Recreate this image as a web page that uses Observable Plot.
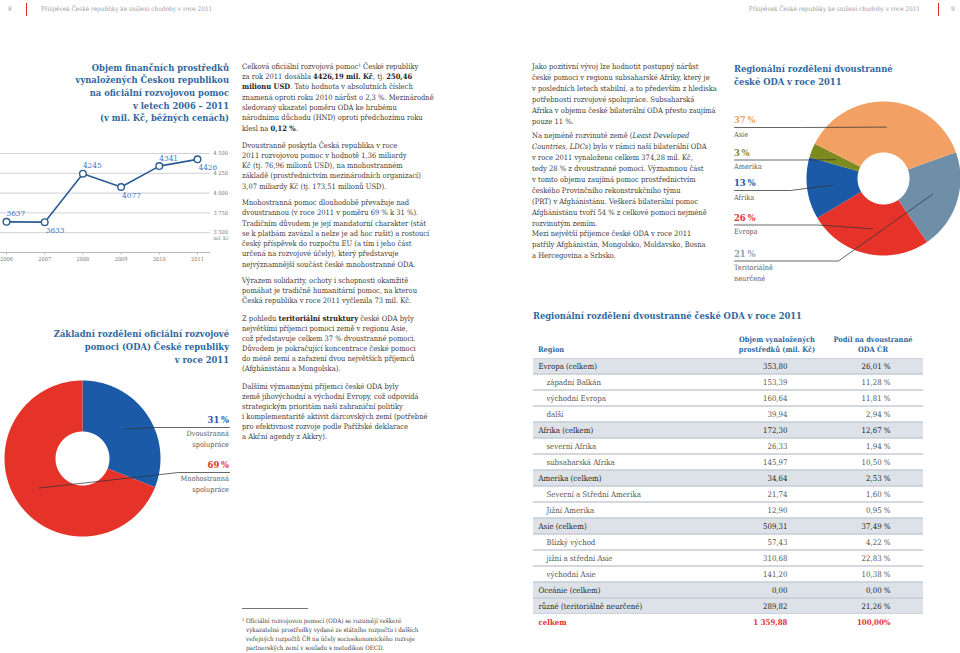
<!DOCTYPE html>
<html lang="cs"><head><meta charset="utf-8">
<script src="https://cdn.jsdelivr.net/npm/d3@7"></script>
<script src="https://cdn.jsdelivr.net/npm/@observablehq/plot@0.6"></script>
<style>
html,body{margin:0;padding:0;background:#fff;}
#page{position:relative;width:960px;height:653px;overflow:hidden;font-family:"DejaVu Serif Condensed","DejaVu Serif",serif;font-stretch:condensed;color:#404040;}
.a{position:absolute;white-space:nowrap;}
.body{font-size:7.5px;line-height:10.3px;color:#404040;}
.body b{color:#1e1e1e;}
.title{font-weight:bold;color:#2e67a0;font-size:9.3px;}
.r{text-align:right;}
.hdr{font-size:6.4px;line-height:10px;color:#9a9a9a;}
.vbar{position:absolute;width:1.3px;background:#e0312b;}
.box{position:absolute;}
.pct{font-weight:bold;font-size:9.4px;line-height:12px;}
.lbl{font-size:7.3px;line-height:11px;color:#555555;}
.th{font-weight:bold;color:#2e67a0;font-size:7.4px;line-height:10.7px;text-align:center;}
</style></head>
<body><div id="page">

<!-- page header -->
<div class="a hdr" style="left:8px;top:4px;">8</div>
<div class="vbar" style="left:26px;top:3px;height:13px;"></div>
<div class="a hdr" style="left:41px;top:4px;">Příspěvek České republiky ke snížení chudoby v roce 2011</div>
<div class="a hdr r" style="right:40px;top:4px;">Příspěvek České republiky ke snížení chudoby v roce 2011</div>
<div class="vbar" style="left:938px;top:3px;height:13px;"></div>
<div class="a hdr" style="left:951px;top:4px;">9</div>

<!-- chart titles -->
<div class="a title r" style="right:731px;top:61.6px;line-height:12.7px;">Objem finančních prostředků<br>vynaložených Českou republikou<br>na oficiální rozvojovou pomoc<br>v letech 2006 – 2011<br>(v mil. Kč, běžných cenách)</div>
<div class="a title r" style="right:731px;top:326.8px;line-height:13px;">Základní rozdělení oficiální rozvojové<br>pomoci (ODA) České republiky<br>v roce 2011</div>
<div class="a title" style="left:734px;top:61.6px;line-height:13.4px;">Regionální rozdělení dvoustranné<br>české ODA v roce 2011</div>
<div class="a title" style="left:533px;top:308.5px;line-height:13px;">Regionální rozdělení dvoustranné české ODA v roce 2011</div>

<!-- column 2 text -->
<div class="a body" style="left:242px;top:61.8px;">Celková oficiální rozvojová pomoc¹ České republiky<br>za rok 2011 dosáhla <b>4426,19 mil. Kč</b>, tj. <b>250,46</b><br><b>milionu USD</b>. Tato hodnota v absolutních číslech<br>znamená oproti roku 2010 nárůst o 2,3 %. Mezinárodně<br>sledovaný ukazatel poměru ODA ke hrubému<br>národnímu důchodu (HND) oproti předchozímu roku<br>klesl na <b>0,12 %</b>.</div>
<div class="a body" style="left:242px;top:140.6px;">Dvoustranně poskytla Česká republika v roce<br>2011 rozvojovou pomoc v hodnotě 1,36 miliardy<br>Kč (tj. 76,96 milionů USD), na mnohostranném<br>základě (prostřednictvím mezinárodních organizací)<br>3,07 miliardy Kč (tj. 173,51 milionů USD).</div>
<div class="a body" style="left:242px;top:198px;">Mnohostranná pomoc dlouhodobě převažuje nad<br>dvoustrannou (v roce 2011 v poměru 69 % k 31 %).<br>Tradičním důvodem je její mandatorní charakter (stát<br>se k platbám zavázal a nelze je ad hoc rušit) a rostoucí<br>český příspěvek do rozpočtu EU (a tím i jeho část<br>určená na rozvojové účely), který představuje<br>nejvýznamnější součást české mnohostranné ODA.</div>
<div class="a body" style="left:242px;top:275.5px;">Výrazem solidarity, ochoty i schopnosti okamžitě<br>pomáhat je tradičně humanitární pomoc, na kterou<br>Česká republika v roce 2011 vyčlenila 73 mil. Kč.</div>
<div class="a body" style="left:242px;top:314px;line-height:10px;">Z pohledu <b>teritoriální struktury</b> české ODA byly<br>největšími příjemci pomoci země v regionu Asie,<br>což představuje celkem 37 % dvoustranné pomoci.<br>Důvodem je pokračující koncentrace české pomoci<br>do méně zemí a zařazení dvou největších příjemců<br>(Afghánistánu a Mongolska).</div>
<div class="a body" style="left:242px;top:382px;line-height:10px;">Dalšími významnými příjemci české ODA byly<br>země jihovýchodní a východní Evropy, což odpovídá<br>strategickým prioritám naší zahraniční politiky<br>i komplementaritě aktivit dárcovských zemí (potřebné<br>pro efektivnost rozvoje podle Pařížské deklarace<br>a Akční agendy z Akkry).</div>
<div class="a" style="left:242px;top:608px;width:66px;height:0.8px;background:#777;"></div>
<div class="a body" style="left:242px;top:615.5px;font-size:6.2px;line-height:9px;padding-left:4px;text-indent:-4px;white-space:normal;width:300px;">¹ Oficiální rozvojovou pomocí (ODA) se rozumějí veškeré<br>vykazatelné prostředky vydané ze státního rozpočtu i dalších<br>veřejných rozpočtů ČR na účely socioekonomického rozvoje<br>partnerských zemí v souladu s metodikou OECD.</div>

<!-- column 3 text -->
<div class="a body" style="left:532px;top:60.5px;line-height:11px;">Jako pozitivní vývoj lze hodnotit postupný nárůst<br>české pomoci v regionu subsaharské Afriky, který je<br>v posledních letech stabilní, a to především z hlediska<br>potřebnosti rozvojové spolupráce. Subsaharská<br>Afrika v objemu české bilaterální ODA přesto zaujímá<br>pouze 11 %.</div>
<div class="a body" style="left:532px;top:129.5px;line-height:11px;">Na nejméně rozvinuté země (<i>Least Developed</i><br><i>Countries, LDCs</i>) bylo v rámci naší bilaterální ODA<br>v roce 2011 vynaloženo celkem 374,28 mil. Kč,<br>tedy 28 % z dvoustranné pomoci. Významnou část<br>v tomto objemu zaujímá pomoc prostřednictvím<br>českého Provinčního rekonstrukčního týmu<br>(PRT) v Afghánistánu. Veškerá bilaterální pomoc<br>Afghánistánu tvoří 54 % z celkové pomoci nejméně<br>rozvinutým zemím.</div>
<div class="a body" style="left:532px;top:227.8px;line-height:11px;">Mezi největší příjemce české ODA v roce 2011<br>patřily Afghánistán, Mongolsko, Moldavsko, Bosna<br>a Hercegovina a Srbsko.</div>

<!-- table header -->
<div class="a th" style="left:538px;top:345.3px;text-align:left;">Region</div>
<div class="a th" style="left:727px;width:100px;top:334.6px;">Objem vynaložených<br>prostředků (mil. Kč)</div>
<div class="a th" style="left:823px;width:100px;top:334.6px;">Podíl na dvoustranné<br>ODA ČR</div>

<div id="lineBox" class="box" style="left:0px;top:140px;"></div>
<div id="splitBox" class="box" style="left:0px;top:378px;"></div>
<div id="regionBox" class="box" style="left:725px;top:95px;"></div>
<div id="tableBox" class="box" style="left:533px;top:358px;"></div>
<div id="labels"></div>
</div>

<script>
// ---------------- data ----------------
const years = [2006, 2007, 2008, 2009, 2010, 2011];
const odaVolume = [3637, 3633, 4245, 4077, 4341, 4426];
const volumeTicks = [3500, 3750, 4000, 4250, 4500];

const splitLabels = ["Dvoustranná spolupráce", "Mnohostranná spolupráce"];
const splitShares = [31, 69];

const regionLabels = ["Asie", "Amerika", "Afrika", "Evropa", "Teritoriálně neurčené"];
const regionShares = [37, 3, 13, 26, 21];

const tableRegions = ["Evropa (celkem)", "západní Balkán", "východní Evropa", "další",
  "Afrika (celkem)", "severní Afrika", "subsaharská Afrika",
  "Amerika (celkem)", "Severní a Střední Amerika", "Jižní Amerika",
  "Asie (celkem)", "Blízký východ", "jižní a střední Asie", "východní Asie",
  "Oceánie (celkem)", "různé (teritoriálně neurčené)", "celkem"];
const tableAmounts = [353.80, 153.39, 160.64, 39.94, 172.30, 26.33, 145.97, 34.64, 21.74, 12.90,
  509.31, 57.43, 310.68, 141.20, 0.00, 289.82, 1359.88];
const tableShares = [26.01, 11.28, 11.81, 2.94, 12.67, 1.94, 10.50, 2.53, 1.60, 0.95,
  37.49, 4.22, 22.83, 10.38, 0.00, 21.26, 100.00];
const tableLevels = [1, 0, 0, 0, 1, 0, 0, 1, 0, 0, 1, 0, 0, 0, 1, 1, 2];

// ---------------- styles ----------------
const FONT = '"DejaVu Serif Condensed","DejaVu Serif",serif';
const splitColors = ["#1b5aa6", "#e5332a"];
const regionColors = ["#f2a063", "#7b8b1e", "#1b5aa6", "#e5332a", "#6f8fa8"];
const regionTextColors = ["#f0a060", "#7b8b1e", "#1b5aa6", "#e5332a", "#8ea3b5"];
const cz = d3.formatLocale({decimal: ",", thousands: " ", grouping: [3], currency: ["", ""]});
const fmtThousand = cz.format(",");
const fmtAmount = cz.format(",.2f");
const fmtShare = d => cz.format(".2f")(d) + " %";

// ---------------- line chart ----------------
const lineData = years.map((year, i) => ({year, value: odaVolume[i], i}));
const lineChart = Plot.plot({
  width: 240, height: 130,
  marginLeft: 6, marginRight: 43, marginTop: 13, marginBottom: 18,
  x: {type: "linear", domain: d3.extent(years), label: null},
  y: {domain: [3250, 4500], label: null},
  style: {fontFamily: FONT, fontSize: "5.6px", color: "#777", background: "transparent", overflow: "visible"},
  marks: [
    Plot.ruleY(volumeTicks, {stroke: "#d0d0d0", strokeWidth: 1, insetLeft: -6, insetRight: -13}),
    Plot.ruleY([3250], {stroke: "#b8b8b8", strokeWidth: 1, insetLeft: -6, insetRight: -13}),
    Plot.axisX({ticks: years, tickFormat: "d", tickSize: 2.5, tickPadding: 2.5, stroke: "#b8b8b8", fill: "#777", label: null}),
    Plot.axisY({anchor: "right", ticks: volumeTicks, tickFormat: fmtThousand, tickSize: 0, tickPadding: 16, textAnchor: "start", fill: "#777", label: null}),
    Plot.text(["mil. Kč"], {frameAnchor: "bottom-right", dx: 16, dy: -13, textAnchor: "start", fontSize: 4.8, fill: "#777"}),
    Plot.line(lineData, {x: "year", y: "value", stroke: "#2c5d92", strokeWidth: 1.6}),
    Plot.dot(lineData, {x: "year", y: "value", r: 3.3, fill: "white", stroke: "#2c5d92", strokeWidth: 1.4}),
    Plot.text(lineData.filter(d => d.i % 2 === 0), {x: "year", y: "value", text: d => String(d.value), textAnchor: "start", dy: -8, fill: "#3b7bbf", fontSize: 8.2}),
    Plot.text(lineData.filter(d => d.i % 2 === 1), {x: "year", y: "value", text: d => String(d.value), textAnchor: "start", dx: 1, dy: 8, fill: "#3b7bbf", fontSize: 8.2})
  ]
});
document.getElementById("lineBox").append(lineChart);

// ---------------- donut helper ----------------
function donut({labels, values, colors, startAngle, cx, cy, R, rIn, box, leaders}) {
  const arcs = d3.pie().sort(null).startAngle(startAngle).endAngle(startAngle + 2 * Math.PI)(values);
  const pts = [];
  arcs.forEach((a, i) => {
    const n = Math.max(4, Math.ceil((a.endAngle - a.startAngle) / 0.01));
    for (let k = 0; k <= n; k++) {
      const t = a.startAngle + (a.endAngle - a.startAngle) * k / n;
      pts.push({key: labels[i], x: Math.sin(t), y: Math.cos(t)});
    }
    for (let k = n; k >= 0; k--) {
      const t = a.startAngle + (a.endAngle - a.startAngle) * k / n;
      pts.push({key: labels[i], x: rIn * Math.sin(t), y: rIn * Math.cos(t)});
    }
  });
  const mid = (1 + rIn) / 2;
  const toData = (px, py) => ({x: (px - cx) / R, y: (cy - py) / R});
  const lead = [];
  leaders.forEach(l => {
    const a = arcs[l.index];
    const t = (a.startAngle + a.endAngle) / 2;
    lead.push({key: l.index, x: mid * Math.sin(t), y: mid * Math.cos(t)});
    lead.push({key: l.index, ...toData(l.elbow[0], l.elbow[1])});
    lead.push({key: l.index, ...toData(l.end[0], l.end[1])});
  });
  return Plot.plot({
    width: box.width, height: box.height, margin: 0,
    x: {domain: [(box.left - cx) / R, (box.left + box.width - cx) / R], axis: null},
    y: {domain: [(cy - box.top - box.height) / R, (cy - box.top) / R], axis: null},
    color: {domain: labels, range: colors},
    style: {background: "transparent", overflow: "visible"},
    marks: [
      Plot.line(pts, {x: "x", y: "y", z: "key", fill: "key", stroke: "none", curve: "linear-closed"}),
      Plot.line(lead, {x: "x", y: "y", z: "key", stroke: "#333", strokeWidth: 0.75})
    ]
  });
}

// left donut
document.getElementById("splitBox").append(donut({
  labels: splitLabels, values: splitShares, colors: splitColors, startAngle: 0,
  cx: 82, cy: 458, R: 78, rIn: 27 / 78,
  box: {left: 0, top: 378, width: 235, height: 160},
  leaders: [
    {index: 0, elbow: [153, 427], end: [229, 427]},
    {index: 1, elbow: [178, 472], end: [229, 472]}
  ]
}));

// right donut: clockwise from the right-hand boundary
const order = [4, 3, 2, 1, 0];
const lineY = [127, 159.5, 190, 224.5, 260.5];
const elbowX = [800, 800, 790, 817, 838];
document.getElementById("regionBox").append(donut({
  labels: order.map(i => regionLabels[i]), values: order.map(i => regionShares[i]),
  colors: order.map(i => regionColors[i]), startAngle: 70 * Math.PI / 180,
  cx: 883, cy: 178, R: 77, rIn: 26 / 77,
  box: {left: 725, top: 95, width: 235, height: 180},
  leaders: regionLabels.map((_, i) => ({index: order.indexOf(i), elbow: [elbowX[i], lineY[i]], end: [734, lineY[i]]}))
}));

// donut labels (HTML text)
const labelsDiv = document.getElementById("labels");
function put(html, cls, x, yc, lh, align, color) {
  const d = document.createElement("div");
  d.className = "a " + cls;
  d.innerHTML = html;
  d.style.top = (yc - lh / 2) + "px";
  d.style.lineHeight = lh + "px";
  if (align === "right") { d.style.right = (960 - x) + "px"; d.style.textAlign = "right"; }
  else d.style.left = x + "px";
  if (color) d.style.color = color;
  labelsDiv.append(d);
}
const splitY = [427, 472];
splitLabels.forEach((name, i) => {
  put(splitShares[i] + "&thinsp;%", "pct", 229, splitY[i] - 7, 12, "right", splitColors[i]);
  put(name.replace(" ", "<br>"), "lbl", 229, splitY[i] + 6, 11, "right");
});
regionLabels.forEach((name, i) => {
  put(regionShares[i] + "&thinsp;%", "pct", 734, lineY[i] - 7, 12, "left", regionTextColors[i]);
  put(name.replace(" ", "<br>"), "lbl", 734, lineY[i] + 7, 11, "left");
});

// ---------------- table ----------------
const rows = tableRegions.map((region, i) => ({i, region, amount: tableAmounts[i], share: tableShares[i], level: tableLevels[i]}));
const body = rows.filter(d => d.level < 2);
const table = Plot.plot({
  width: 390, height: 272, margin: 0,
  y: {type: "band", domain: d3.range(rows.length), padding: 0, axis: null},
  style: {fontFamily: FONT, fontSize: "7.8px", background: "transparent", overflow: "visible"},
  marks: [
    Plot.cell(body, {y: "i", fill: "#c9cfd6"}),
    Plot.cell(body.filter(d => d.level === 1), {y: "i", fill: "#dde2e9", insetTop: 0.8, insetBottom: 0.8}),
    Plot.cell(body.filter(d => d.level === 0), {y: "i", fill: "#ffffff", insetTop: 0.8, insetBottom: 0.8}),
    Plot.text(rows.filter(d => d.level === 1), {y: "i", text: "region", frameAnchor: "left", dx: 5, fill: "#262626"}),
    Plot.text(rows.filter(d => d.level === 0), {y: "i", text: "region", frameAnchor: "left", dx: 13, fill: "#555"}),
    Plot.text(rows.filter(d => d.level === 2), {y: "i", text: "region", frameAnchor: "left", dx: 5, fill: "#e5332a", fontWeight: "bold"}),
    Plot.text(rows.filter(d => d.level === 1), {y: "i", text: d => fmtAmount(d.amount), frameAnchor: "left", dx: 254, textAnchor: "end", fill: "#262626"}),
    Plot.text(rows.filter(d => d.level === 0), {y: "i", text: d => fmtAmount(d.amount), frameAnchor: "left", dx: 254, textAnchor: "end", fill: "#555"}),
    Plot.text(rows.filter(d => d.level === 1), {y: "i", text: d => fmtShare(d.share), frameAnchor: "left", dx: 357, textAnchor: "end", fill: "#262626"}),
    Plot.text(rows.filter(d => d.level === 0), {y: "i", text: d => fmtShare(d.share), frameAnchor: "left", dx: 357, textAnchor: "end", fill: "#555"}),
    Plot.text(rows.filter(d => d.level === 2), {y: "i", text: d => fmtAmount(d.amount), frameAnchor: "left", dx: 254, textAnchor: "end", fill: "#e5332a", fontWeight: "bold"}),
    Plot.text(rows.filter(d => d.level === 2), {y: "i", text: d => cz.format(".2f")(d.share) + "%", frameAnchor: "left", dx: 357, textAnchor: "end", fill: "#e5332a", fontWeight: "bold"})
  ]
});
document.getElementById("tableBox").append(table);
</script>
</body></html>
